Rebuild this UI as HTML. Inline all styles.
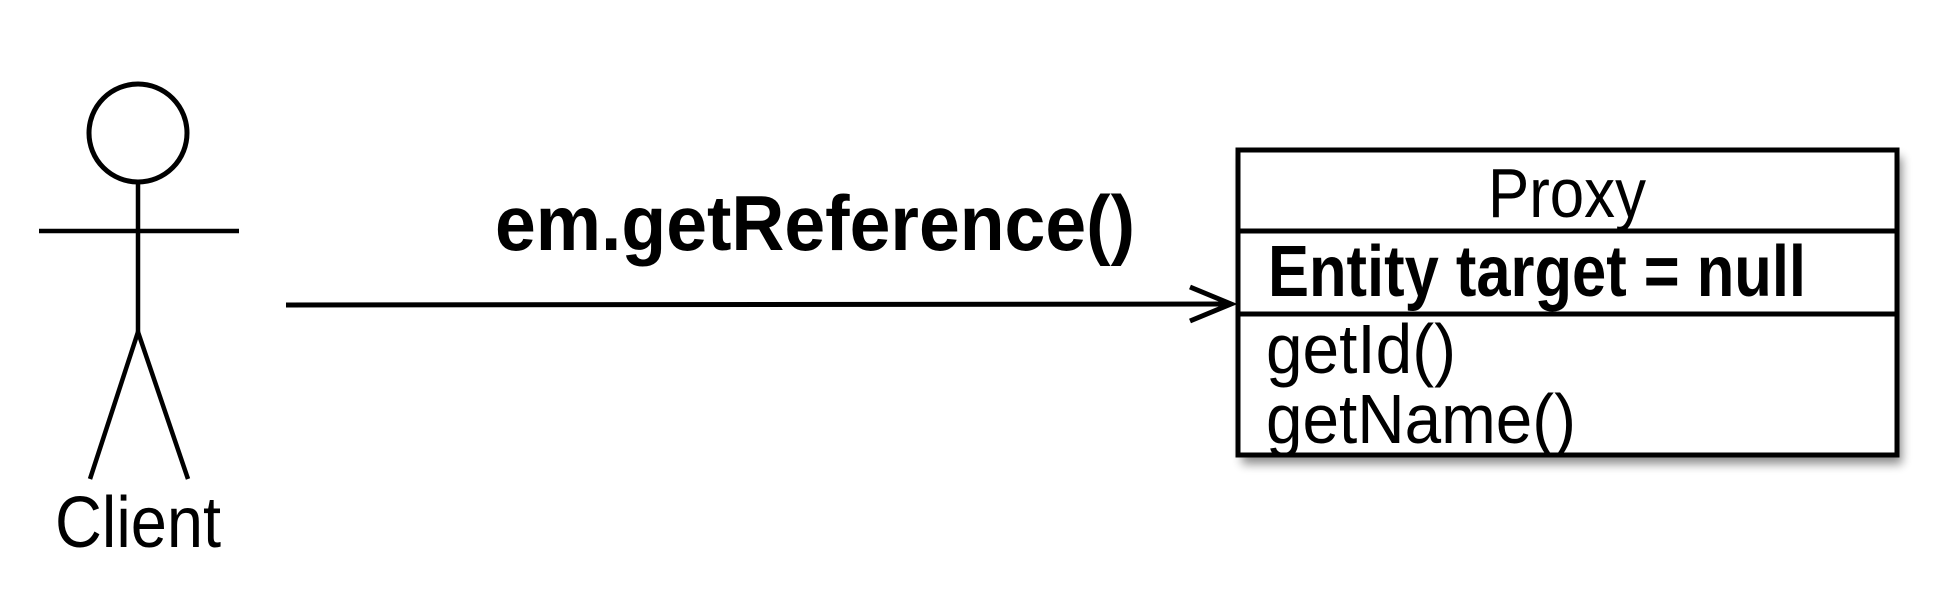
<!DOCTYPE html>
<html><head><meta charset="utf-8"><style>html,body{margin:0;padding:0;background:#fff;}svg{display:block}</style></head>
<body>
<svg width="1950" height="598" viewBox="0 0 1950 598" xmlns="http://www.w3.org/2000/svg" font-family="Liberation Sans, sans-serif">
<defs>
<filter id="sh" x="-5%" y="-5%" width="115%" height="120%"><feGaussianBlur stdDeviation="5"/></filter>
</defs>
<!-- actor -->
<circle cx="138" cy="133" r="49" fill="#fff" stroke="#000" stroke-width="5"/>
<line x1="138" y1="182" x2="138" y2="332" stroke="#000" stroke-width="4.5"/>
<line x1="39" y1="231" x2="239" y2="231" stroke="#000" stroke-width="4.5"/>
<line x1="138" y1="332" x2="90" y2="479" stroke="#000" stroke-width="4.5"/>
<line x1="138" y1="332" x2="188" y2="479" stroke="#000" stroke-width="4.5"/>
<text x="138" y="547" font-size="72" text-anchor="middle" textLength="166" lengthAdjust="spacingAndGlyphs">Client</text>
<!-- arrow -->
<line x1="286" y1="305" x2="1229" y2="304" stroke="#000" stroke-width="5"/>
<polyline points="1190,287 1231,304 1190,321" fill="none" stroke="#000" stroke-width="5"/>
<text x="495" y="250" font-size="78" font-weight="bold" textLength="640" lengthAdjust="spacingAndGlyphs">em.getReference()</text>
<!-- class box -->
<rect x="1242" y="157" width="660" height="307" fill="#000" opacity="0.45" filter="url(#sh)"/>
<rect x="1238" y="150" width="659" height="305" fill="#fff" stroke="#000" stroke-width="5"/>
<line x1="1238" y1="231" x2="1897" y2="231" stroke="#000" stroke-width="5"/>
<line x1="1238" y1="314" x2="1897" y2="314" stroke="#000" stroke-width="5"/>
<text x="1567" y="217" font-size="70" text-anchor="middle" textLength="158" lengthAdjust="spacingAndGlyphs">Proxy</text>
<text x="1268" y="296" font-size="72" font-weight="bold" textLength="538" lengthAdjust="spacingAndGlyphs">Entity target = null</text>
<text x="1266" y="373" font-size="70" textLength="190" lengthAdjust="spacingAndGlyphs">getId()</text>
<text x="1266" y="443" font-size="70" textLength="310" lengthAdjust="spacingAndGlyphs">getName()</text>
</svg>
</body></html>
